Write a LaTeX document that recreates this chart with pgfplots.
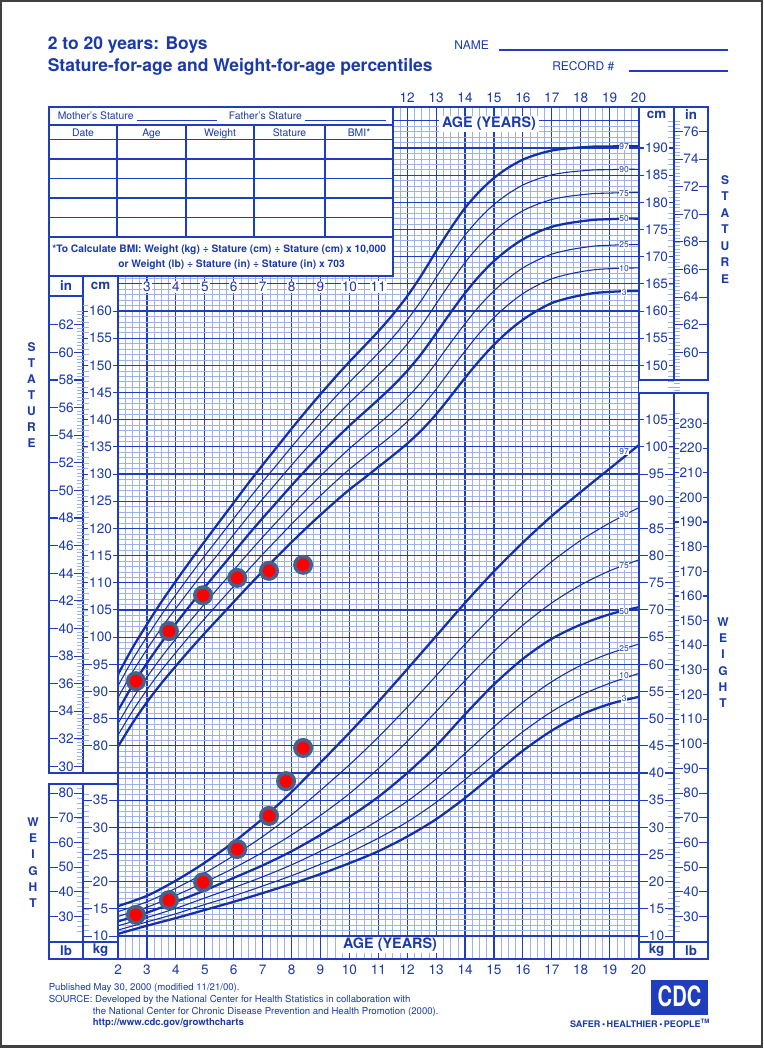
\documentclass[border=0pt]{standalone}
\usepackage{pgfplots}
\usepackage{pgfplotstable}
\pgfplotsset{compat=1.18}
\usepackage{fontspec}
\setmainfont{TeX Gyre Heros}
\definecolor{cdc}{RGB}{30,62,190}
\definecolor{cdcdk}{RGB}{20,48,165}
\definecolor{cdctxt}{RGB}{26,58,170}
\definecolor{gl}{RGB}{158,178,232}
\definecolor{ring}{RGB}{70,98,140}
\newcommand\fs[1]{\fontsize{#1}{#1}\selectfont}

% stature-for-age percentiles (cm)
\pgfplotstableread{
age  p3     p10    p25    p50    p75    p90    p97
2    79.86  81.98  84.12  86.5   88.88  91.02  93.14
2.5  84.18  86.38  88.62  91.1   93.58  95.82  98.02
3    88.04  90.32  92.63  95.2   97.77  100.08 102.36
3.5  91.51  93.90  96.32  99.0   101.68 104.10 106.49
4    94.69  97.18  99.70  102.5  105.30 107.82 110.31
4.5  97.77  100.36 102.99 105.9  108.81 111.44 114.03
5    100.74 103.43 106.17 109.2  112.23 114.97 117.66
5.5  103.60 106.41 109.25 112.4  115.55 118.39 121.20
6    106.47 109.38 112.33 115.6  118.87 121.82 124.73
6.5  109.33 112.34 115.40 118.8  122.20 125.26 128.27
7    112.11 115.23 118.39 121.9  125.41 128.57 131.69
7.5  114.80 118.02 121.28 124.9  128.52 131.78 135.00
8    117.46 120.79 124.16 127.9  131.64 135.01 138.34
8.5  120.02 123.46 126.94 130.8  134.66 138.14 141.58
9    122.49 126.03 129.62 133.6  137.58 141.17 144.71
9.5  124.87 128.51 132.20 136.3  140.40 144.09 147.73
10   127.14 130.89 134.68 138.9  143.12 146.91 150.66
10.5 129.20 133.02 136.95 141.3  145.65 149.58 153.45
11   131.30 135.14 139.19 143.7  148.21 152.26 156.27
11.5 133.40 137.26 141.50 146.2  150.90 155.14 159.32
12   135.60 139.64 144.08 149.0  153.92 158.36 162.73
12.5 138.10 142.35 147.02 152.2  157.38 162.05 166.66
13   141.00 145.61 150.48 155.9  161.32 166.19 171.00
13.5 144.30 149.16 154.15 159.7  165.25 170.24 175.17
14   147.70 152.63 157.68 163.3  168.92 173.97 178.97
14.5 150.90 155.94 160.94 166.5  172.06 177.06 182.00
15   153.80 158.79 163.72 169.2  174.68 179.61 184.48
15.5 156.30 161.19 166.02 171.4  176.78 181.61 186.39
16   158.40 163.21 167.94 173.2  178.46 183.19 187.86
16.5 160.10 164.73 169.36 174.5  179.64 184.27 188.84
17   161.47 165.94 170.47 175.5  180.53 185.06 189.53
17.5 162.29 166.69 171.15 176.1  181.05 185.51 189.91
18   162.89 167.23 171.62 176.5  181.38 185.77 190.11
18.5 163.33 167.62 171.97 176.8  181.63 185.98 190.27
19   163.52 167.79 172.10 176.9  181.70 186.01 190.28
19.5 163.65 167.90 172.21 177.0  181.79 186.10 190.35
20   163.68 167.93 172.22 177.0  181.78 186.07 190.32
}\stature

% weight-for-age percentiles (kg)
\pgfplotstableread{
age p3   p10  p25  p50  p75  p90  p97
2   10.4 11.1 11.9 12.7 13.6 14.5 15.5
3   11.9 12.6 13.4 14.3 15.3 16.3 17.4
4   13.3 14.1 15.1 16.3 17.5 18.8 20.2
5   14.8 15.8 17.0 18.4 19.9 21.6 23.5
6   16.3 17.4 18.9 20.7 22.5 24.8 27.3
7   17.9 19.2 20.9 23.0 25.4 28.3 31.6
8   19.6 21.1 23.1 25.6 28.6 32.3 36.5
9   21.4 23.2 25.6 28.6 32.2 36.8 41.9
10  23.4 25.4 28.2 31.9 36.2 41.5 47.4
11  25.6 28.0 31.3 35.6 40.8 46.6 53.1
12  28.3 31.0 34.8 40.0 45.8 52.1 59.1
13  31.5 34.6 38.9 45.0 51.3 57.9 65.2
14  35.4 38.8 43.6 50.8 57.0 63.7 71.3
15  39.8 43.3 48.5 56.3 62.4 69.2 77.1
16  44.1 47.6 53.0 61.0 67.2 74.3 82.4
17  47.8 51.3 56.8 64.7 71.3 78.9 87.3
18  50.7 54.3 59.8 67.3 74.6 82.8 91.7
19  52.7 56.5 62.0 69.2 77.2 86.0 96.0
20  54.0 58.3 63.7 70.5 79.2 88.8 100.3
}\weight

\begin{document}
\begin{tikzpicture}[x=0.75pt,y=-0.75pt]
\fill[white] (0,0) rectangle (763,1050);
\coordinate (AX) at (118,959);

% ---------- grid and curves ----------
\begin{axis}[
  at={(AX)}, anchor=south west,
  width=390.4pt, height=639pt, scale only axis,
  xmin=2, xmax=20, ymin=40.77, ymax=197.53,
  xtick={2,...,20},
  xticklabels={2,3,4,5,6,7,8,9,10,11,12,13,14,15,16,17,18,19,20},
  ytick={45,50,...,195}, yticklabels={},
  minor x tick num=3, minor y tick num=4,
  grid=both,
  major grid style={draw=cdc, line width=0.9pt},
  minor grid style={draw=gl, line width=0.45pt},
  major tick length=0pt, minor tick length=0pt,
  axis line style={draw=cdc, line width=1.2pt},
  xticklabel style={font=\fs{10.2}, text=cdctxt, anchor=center, yshift=-8.3pt},
]
% stature curves
\addplot[cdcdk, line width=1.7pt, smooth] table[x=age,y=p3]{\stature};
\addplot[cdcdk, line width=0.8pt, smooth] table[x=age,y=p10]{\stature};
\addplot[cdcdk, line width=0.8pt, smooth] table[x=age,y=p25]{\stature};
\addplot[cdcdk, line width=1.7pt, smooth] table[x=age,y=p50]{\stature};
\addplot[cdcdk, line width=0.8pt, smooth] table[x=age,y=p75]{\stature};
\addplot[cdcdk, line width=0.8pt, smooth] table[x=age,y=p90]{\stature};
\addplot[cdcdk, line width=1.7pt, smooth] table[x=age,y=p97]{\stature};
% weight curves (kg shown on the same grid, 10 kg = 45 grid units)
\addplot[cdcdk, line width=1.7pt, smooth] table[x=age,y expr=\thisrow{p3}+35]{\weight};
\addplot[cdcdk, line width=0.8pt, smooth] table[x=age,y expr=\thisrow{p10}+35]{\weight};
\addplot[cdcdk, line width=0.8pt, smooth] table[x=age,y expr=\thisrow{p25}+35]{\weight};
\addplot[cdcdk, line width=1.7pt, smooth] table[x=age,y expr=\thisrow{p50}+35]{\weight};
\addplot[cdcdk, line width=0.8pt, smooth] table[x=age,y expr=\thisrow{p75}+35]{\weight};
\addplot[cdcdk, line width=0.8pt, smooth] table[x=age,y expr=\thisrow{p90}+35]{\weight};
\addplot[cdcdk, line width=1.7pt, smooth] table[x=age,y expr=\thisrow{p97}+35]{\weight};
% percentile labels
\foreach \v/\t in {190.25/97,186.07/90,181.66/75,177.06/50,172.14/25,167.86/10,163.44/3,
                   134.2/97,122.6/90,113.1/75,104.7/50,97.8/25,93.0/10,88.6/3}{
  \edef\tmp{\noexpand\node[font=\noexpand\fs{6.3}, text=cdctxt, fill=white, inner sep=0.5pt] at (axis cs:19.5,\v) {\t};}\tmp
}
% measured stature
\addplot[only marks, mark=*, mark size=6.2pt,
  mark options={fill=red, draw=ring, line width=2.6pt}] coordinates {
  (2.62,91.9) (3.76,101.1) (4.94,107.7) (6.12,110.9) (7.22,112.2) (8.40,113.3)};
% measured weight
\addplot[only marks, mark=*, mark size=6.2pt,
  mark options={fill=red, draw=ring, line width=2.6pt}]
  table[x=age, y expr=\thisrow{kg}+35] {
age kg
2.62 13.9
3.76 16.6
4.94 19.9
6.12 26.0
7.22 32.1
7.81 38.5
8.40 44.6
};
\end{axis}

% ---------- top-left record table ----------
\fill[white] (48,106) rectangle (393,276);
\begin{scope}[draw=cdc, line width=0.9pt]
\draw (49,107) rectangle (393,276);
\draw (49,125)--(393,125);
\foreach \yy in {139.5,159,178.5,198,217.5,237} \draw (49,\yy)--(393,\yy);
\foreach \xx in {117,186,254,325} \draw (\xx,125)--(\xx,237);
\draw[line width=0.6pt] (137,120)--(217,120);
\draw[line width=0.6pt] (305,120)--(386,120);
\end{scope}
\begin{scope}[font=\fs{7.8}, text=cdctxt]
\node[anchor=base west] at (53,119.5) {Mother's Stature};
\node[anchor=base west] at (224,119.5) {Father's Stature};
\node[anchor=base] at (83,136) {Date};
\node[anchor=base] at (151.5,136) {Age};
\node[anchor=base] at (220,136) {Weight};
\node[anchor=base] at (289.5,136) {Stature};
\node[anchor=base] at (359,136) {BMI*};
\end{scope}
\node[anchor=base west, font=\bfseries\fs{7.7}, text=cdctxt, inner sep=0] at (52,252.5)
  {*To Calculate BMI: Weight (kg) ÷ Stature (cm) ÷ Stature (cm) x 10,000};
\node[anchor=base west, font=\bfseries\fs{7.7}, text=cdctxt, inner sep=0] at (118,267)
  {or Weight (lb) ÷ Stature (in) ÷ Stature (in) x 703};

% age labels over the grid
\foreach \a in {3,...,11}
  \node[font=\fs{10.2}, text=cdctxt, fill=white, inner sep=0.8pt] at ({118+(\a-2)*28.917},287) {\a};
\foreach \a in {12,...,20}
  \node[font=\fs{10.2}, text=cdctxt] at ({118+(\a-2)*28.917},97.7) {\a};
\node[font=\bfseries\fs{10.8}, text=cdctxt, fill=white, inner xsep=2pt, inner ysep=1pt] at (489,124) {AGE (YEARS)};
\node[font=\bfseries\fs{10.8}, text=cdctxt, fill=white, inner xsep=2pt, inner ysep=1pt] at (390,945) {AGE (YEARS)};

% ---------- left stature columns ----------
\begin{scope}[draw=cdc]
\fill[white] (49,276) rectangle (117.4,773);
\draw[line width=1pt] (49,276) rectangle (118,773);
\draw[line width=1pt] (83,276)--(83,773);
\draw[line width=0.9pt] (49,296)--(83,296);
\foreach \c in {81,...,161} \draw[gl, line width=0.45pt] (83,{311+(160-\c)*5.435})--(89,{311+(160-\c)*5.435});
\foreach \q in {30,30.25,...,63} \draw[gl, line width=0.45pt] (77,{311+(160-\q*2.54)*5.435})--(83,{311+(160-\q*2.54)*5.435});
\foreach \c in {80,85,...,160}{
  \draw[line width=0.8pt] (83,{311+(160-\c)*5.435})--(118,{311+(160-\c)*5.435});
  \node[font=\fs{10.2}, text=cdctxt, fill=white, inner sep=0.6pt] at (100.5,{311+(160-\c)*5.435}) {\c};
}
\foreach \i in {30,32,...,62}{
  \draw[line width=0.8pt] (49,{311+(160-\i*2.54)*5.435})--(83,{311+(160-\i*2.54)*5.435});
  \node[font=\fs{10.2}, text=cdctxt, fill=white, inner sep=0.6pt] at (66,{311+(160-\i*2.54)*5.435}) {\i};
}
\end{scope}
\node[font=\bfseries\fs{10}, text=cdctxt] at (66,285.5) {in};
\node[font=\bfseries\fs{10}, text=cdctxt, fill=white, inner sep=0.5pt] at (100.5,285.5) {cm};

% ---------- left weight columns ----------
\begin{scope}[draw=cdc]
\fill[white] (49,784) rectangle (117.4,959);
\foreach \k in {10,...,36} \draw[gl, line width=0.45pt] (83,{311+(125-\k)*5.435})--(89,{311+(125-\k)*5.435});
\foreach \l in {24,26,...,82} \draw[gl, line width=0.45pt] (77,{311+(125-\l*0.45359)*5.435})--(83,{311+(125-\l*0.45359)*5.435});
\foreach \k in {10,15,...,35}{
  \draw[line width=0.8pt] (83,{311+(125-\k)*5.435})--(118,{311+(125-\k)*5.435});
  \node[font=\fs{10.2}, text=cdctxt, fill=white, inner sep=0.6pt] at (100.5,{311+(125-\k)*5.435}) {\k};
}
\foreach \l in {30,40,...,80}{
  \draw[line width=0.8pt] (49,{311+(125-\l*0.45359)*5.435})--(83,{311+(125-\l*0.45359)*5.435});
  \node[font=\fs{10.2}, text=cdctxt, fill=white, inner sep=0.6pt] at (66,{311+(125-\l*0.45359)*5.435}) {\l};
}
\fill[white] (49.5,942) rectangle (117.4,958.5);
\draw[line width=1pt] (49,784) rectangle (118,959);
\draw[line width=1pt] (83,784)--(83,959);
\draw[line width=1pt] (49,942)--(118,942);
\end{scope}
\node[font=\bfseries\fs{10}, text=cdctxt] at (66,950.5) {lb};
\node[font=\bfseries\fs{10}, text=cdctxt] at (100.5,950.5) {kg};

% ---------- right stature columns ----------
\begin{scope}[draw=cdc]
\fill[white] (639.2,107) rectangle (708,380);
\foreach \c in {144,...,197} \draw[gl, line width=0.45pt] (668,{311+(160-\c)*5.435})--(674,{311+(160-\c)*5.435});
\foreach \q in {57,57.25,...,77.5} \draw[gl, line width=0.45pt] (674,{311+(160-\q*2.54)*5.435})--(680,{311+(160-\q*2.54)*5.435});
\foreach \c in {150,155,...,190}{
  \draw[line width=0.8pt] (639,{311+(160-\c)*5.435})--(674,{311+(160-\c)*5.435});
  \node[font=\fs{10.2}, text=cdctxt, fill=white, inner sep=0.6pt] at (656.5,{311+(160-\c)*5.435}) {\c};
}
\foreach \i in {60,62,...,76}{
  \draw[line width=0.8pt] (674,{311+(160-\i*2.54)*5.435})--(708,{311+(160-\i*2.54)*5.435});
  \node[font=\fs{10.2}, text=cdctxt, fill=white, inner sep=0.6pt] at (691,{311+(160-\i*2.54)*5.435}) {\i};
}
\fill[white] (640,108) rectangle (707,121);
\draw[line width=1pt] (639,107) rectangle (708,380);
\draw[line width=1pt] (674,107)--(674,380);
\end{scope}
\node[font=\bfseries\fs{10}, text=cdctxt] at (656.5,115) {cm};
\node[font=\bfseries\fs{10}, text=cdctxt] at (691,114.5) {in};

% ---------- right weight columns ----------
\begin{scope}[draw=cdc]
\fill[white] (639.2,393) rectangle (708,959);
\foreach \k in {10,...,106} \draw[gl, line width=0.45pt] (668,{311+(125-\k)*5.435})--(674,{311+(125-\k)*5.435});
\foreach \l in {24,26,...,234} \draw[gl, line width=0.45pt] (674,{311+(125-\l*0.45359)*5.435})--(680,{311+(125-\l*0.45359)*5.435});
\foreach \k in {10,15,...,105}{
  \draw[line width=0.8pt] (639,{311+(125-\k)*5.435})--(674,{311+(125-\k)*5.435});
  \node[font=\fs{10.2}, text=cdctxt, fill=white, inner sep=0.6pt] at (656.5,{311+(125-\k)*5.435}) {\k};
}
\foreach \l in {30,40,...,230}{
  \draw[line width=0.8pt] (674,{311+(125-\l*0.45359)*5.435})--(708,{311+(125-\l*0.45359)*5.435});
  \node[font=\fs{10.2}, text=cdctxt, fill=white, inner sep=0.6pt] at (691,{311+(125-\l*0.45359)*5.435}) {\l};
}
\fill[white] (639.5,942) rectangle (707.5,958.5);
\draw[line width=1pt] (639,393) rectangle (708,959);
\draw[line width=1pt] (674,393)--(674,959);
\draw[line width=1pt] (639,942)--(708,942);
\end{scope}
\node[font=\bfseries\fs{10}, text=cdctxt] at (656.5,950.5) {kg};
\node[font=\bfseries\fs{10}, text=cdctxt] at (691,950.5) {lb};

% ---------- side words ----------
\foreach \ch [count=\n from 0] in {S,T,A,T,U,R,E}{
  \node[font=\bfseries\fs{9}, text=cdctxt] at (31.5,{346.7+16*\n}) {\ch};
  \node[font=\bfseries\fs{9}, text=cdctxt] at (725,{180+16.5*\n}) {\ch};
}
\foreach \ch [count=\n from 0] in {W,E,I,G,H,T}{
  \node[font=\bfseries\fs{9}, text=cdctxt] at (33,{822+16.3*\n}) {\ch};
  \node[font=\bfseries\fs{9}, text=cdctxt] at (723,{621.7+16.3*\n}) {\ch};
}

% ---------- titles ----------
\node[anchor=base west, font=\bfseries\fs{13.1}, text=cdctxt, inner sep=0] at (47.5,49.3) {2 to 20 years: Boys};
\node[anchor=base west, font=\bfseries\fs{13.1}, text=cdctxt, inner sep=0] at (47.5,71) {Stature-for-age and Weight-for-age percentiles};
\node[anchor=base west, font=\fs{9}, text=cdctxt, inner sep=0] at (454,49.3) {NAME};
\draw[cdc, line width=0.9pt] (499,50)--(728,50);
\node[anchor=base west, font=\fs{9}, text=cdctxt, inner sep=0] at (552,70) {RECORD \#};
\draw[cdc, line width=0.9pt] (629,71)--(728,71);

% ---------- footer ----------
\begin{scope}[font=\fs{7.2}, text=cdctxt]
\node[anchor=base west, inner sep=0] at (48.5,990.5) {Published May 30, 2000 (modified 11/21/00).};
\node[anchor=base west, inner sep=0] at (48.5,1002.5) {SOURCE: Developed by the National Center for Health Statistics in collaboration with};
\node[anchor=base west, inner sep=0] at (92.5,1014) {the National Center for Chronic Disease Prevention and Health Promotion (2000).};
\node[anchor=base west, inner sep=0, font=\bfseries\fs{7.2}] at (92.5,1025) {http://www.cdc.gov/growthcharts};
\end{scope}
\fill[cdc] (651,980) rectangle (708,1015);
\node[font=\bfseries\fs{21}, text=white] at (679.5,996) {\scalebox{0.72}[1]{CDC}};
\node[font=\bfseries\fs{6.8}, text=cdctxt] at (640,1023) {SAFER\,\textbullet\,HEALTHIER\,\textbullet\,PEOPLE\textsuperscript{\fs{4.5}TM}};

\draw[black!75, line width=1.6pt] (1,1) rectangle (762,1046.5);
\end{tikzpicture}
\end{document}
